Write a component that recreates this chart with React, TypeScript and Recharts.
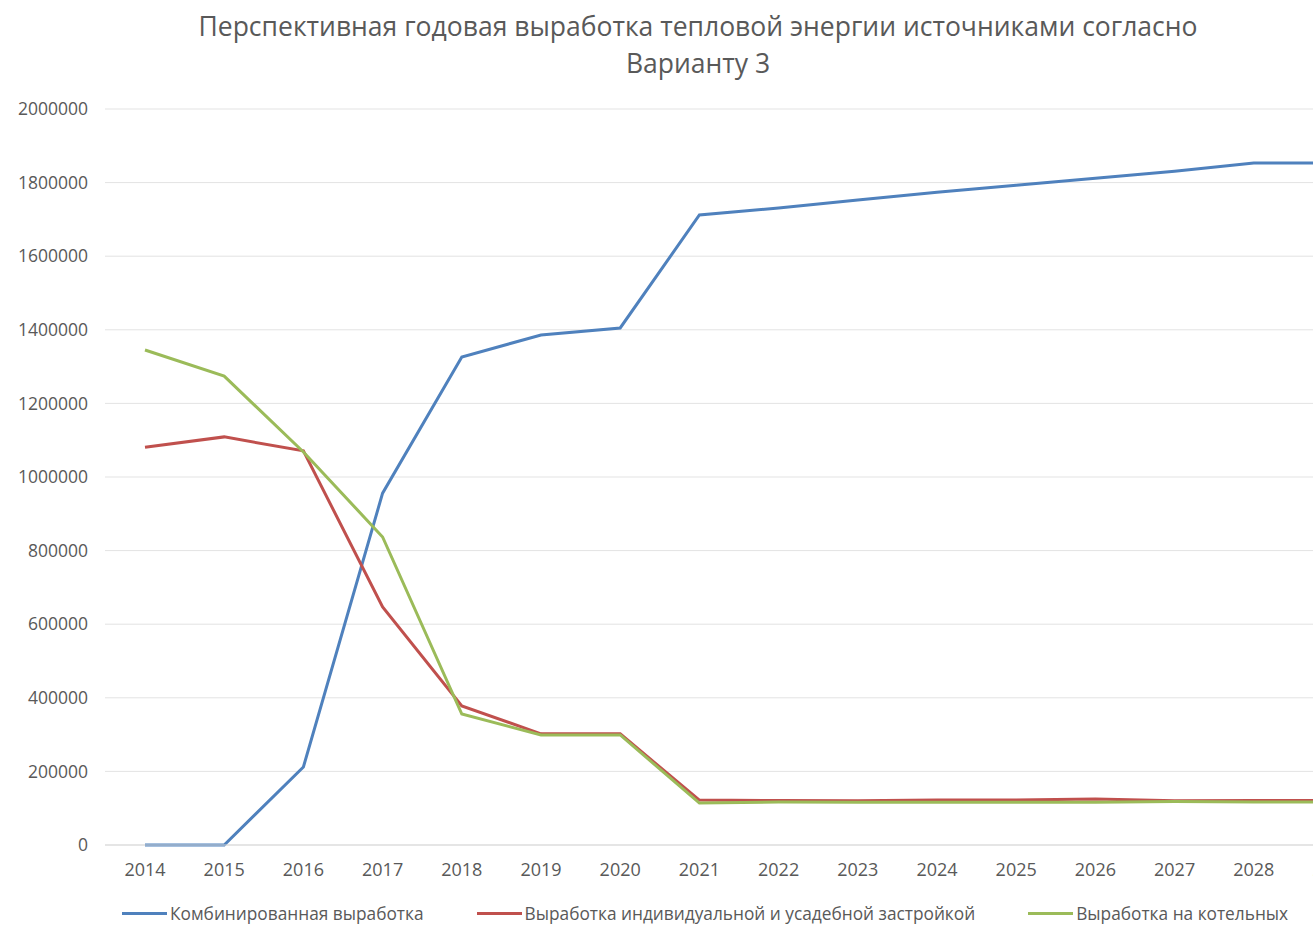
import React from 'react';
import { LineChart, Line, XAxis, YAxis, CartesianGrid, Legend } from 'recharts';

const years = ['2014', '2015', '2016', '2017', '2018', '2019', '2020', '2021', '2022', '2023', '2024', '2025', '2026', '2027', '2028', '2029'];
const combined = [0, 0, 212000, 956000, 1326000, 1386000, 1405000, 1712000, 1731000, 1753000, 1774000, 1793000, 1812000, 1831000, 1853000, 1853000];
const individual = [1081000, 1109000, 1071000, 647000, 378000, 302000, 302000, 122000, 121000, 120000, 122000, 122000, 125000, 120000, 121000, 121000];
const boilers = [1345000, 1274000, 1068000, 837000, 356000, 299000, 299000, 114000, 117000, 116000, 116000, 116000, 116000, 118000, 117000, 117000];
const yTicks = [0, 200000, 400000, 600000, 800000, 1000000, 1200000, 1400000, 1600000, 1800000, 2000000];

const seriesNames = ['Комбинированная выработка', 'Выработка индивидуальной и усадебной застройкой', 'Выработка на котельных'];
const seriesColors = ['#4F81BD', '#C0504D', '#9BBB59'];

const data = years.map((y, i) => ({
  year: y,
  combined: combined[i],
  individual: individual[i],
  boilers: boilers[i],
}));

const FONT = '"Open Sans", sans-serif';
const TEXT = '#595959';

// Legend like Excel: short line + label, fixed gaps
const LegendContent = () => (
  <div style={{ display: 'flex', alignItems: 'center', paddingLeft: 122, fontFamily: FONT, fontSize: 17.3, color: TEXT, whiteSpace: 'nowrap' }}>
    {seriesNames.map((name, i) => (
      <div key={name} style={{ display: 'flex', alignItems: 'center', marginRight: 53 }}>
        <div style={{ width: 45, height: 3, background: seriesColors[i], marginRight: 3 }} />
        <span>{name}</span>
      </div>
    ))}
  </div>
);

export default function App() {
  return (
    <div style={{ position: 'absolute', left: 0, top: 0, width: 1313, height: 933, overflow: 'hidden', background: '#fff' }}>
      <div
        style={{
          position: 'absolute',
          left: 0,
          top: 8,
          width: 1396,
          textAlign: 'center',
          fontFamily: FONT,
          fontSize: 26.5,
          lineHeight: '37px',
          color: TEXT,
        }}
      >
        Перспективная годовая выработка тепловой энергии источниками согласно
        <br />
        Варианту 3
      </div>
      <LineChart
        width={1400}
        height={933}
        data={data}
        margin={{ top: 109, right: 27, left: 0, bottom: 24 }}
      >
        <CartesianGrid horizontal vertical={false} stroke="#e3e3e3" />
        <XAxis
          dataKey="year"
          height={40}
          padding={{ left: 40, right: 40 }}
          tickLine={false}
          tickSize={0}
          tickMargin={18}
          axisLine={{ stroke: '#d9d9d9' }}
          tick={{ fill: TEXT, fontSize: 18, fontFamily: FONT }}
          interval={0}
        />
        <YAxis
          width={105}
          domain={[0, 2000000]}
          ticks={yTicks}
          tickLine={false}
          axisLine={false}
          tickSize={0}
          tickMargin={17}
          tick={{ fill: TEXT, fontSize: 17.5, fontFamily: FONT }}
        />
        <Legend
          verticalAlign="bottom"
          content={<LegendContent />}
          wrapperStyle={{ top: 902, left: 0, width: 1313, height: 24 }}
        />
        <Line dataKey="combined" name={seriesNames[0]} stroke={seriesColors[0]} strokeWidth={3} dot={false} isAnimationActive={false} />
        <Line dataKey="individual" name={seriesNames[1]} stroke={seriesColors[1]} strokeWidth={3} dot={false} isAnimationActive={false} />
        <Line dataKey="boilers" name={seriesNames[2]} stroke={seriesColors[2]} strokeWidth={3} dot={false} isAnimationActive={false} />
      </LineChart>
    </div>
  );
}
